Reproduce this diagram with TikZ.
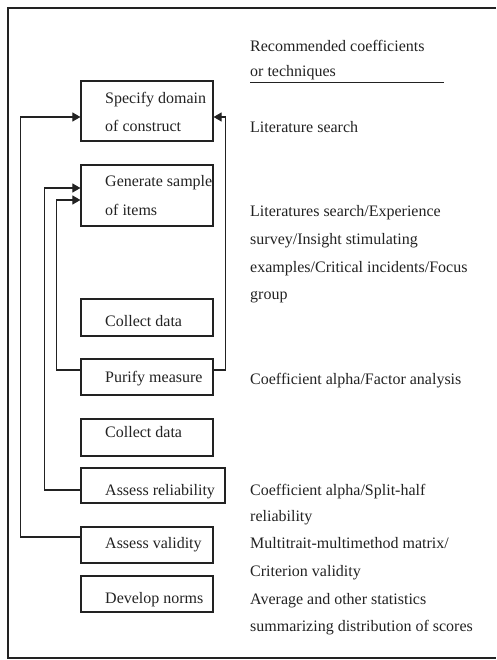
\documentclass[tikz,border=0pt]{standalone}
\usepackage{fontspec}
\setmainfont{Liberation Serif}
\usetikzlibrary{arrows.meta}
\definecolor{ink}{HTML}{222222}
\begin{document}
\begin{tikzpicture}[x=1pt,y=-1pt,
  box/.style={draw=ink,line width=1.2pt,minimum width=132pt,inner sep=0pt},
  txt/.style={anchor=base west,inner sep=0pt,text=ink,font=\fontsize{16}{20}\selectfont},
  link/.style={draw=ink,line width=1.1pt},
  arr/.style={link,-{Triangle[length=8pt,width=9pt]}}]
\useasboundingbox (0,0) rectangle (496,660);
\draw[ink,line width=1.2pt] (496,8) -- (8,8) -- (8,658) -- (496,658);
% boxes
\node[box,minimum height=60pt] (spec) at (147,111) {};
\node[box,minimum height=61pt] (gen) at (147,195.5) {};
\node[box,minimum height=37pt] (cd1) at (147,317.5) {};
\node[box,minimum height=36pt] (pur) at (147,377) {};
\node[box,minimum height=37pt] (cd2) at (147,437.5) {};
\node[box,minimum height=35pt,minimum width=144pt] (rel) at (153,485.5) {};
\node[box,minimum height=36pt] (val) at (147,545) {};
\node[box,minimum height=36pt] (nrm) at (147,594) {};
% box texts
\node[txt] (t1a) at (105,104) {Specify domain};
\node[txt] (t1b) at (105,132) {of construct};
\node[txt] (t2a) at (105,187) {Generate sample};
\node[txt] (t2b) at (105,215) {of items};
\node[txt] (t3) at (105,326) {Collect data};
\node[txt] (t4) at (105,382) {Purify measure};
\node[txt] (t5) at (105,437) {Collect data};
\node[txt] (t6) at (105,495) {Assess reliability};
\node[txt] (t7) at (105,548) {Assess validity};
\node[txt] (t8) at (105,603) {Develop norms};
% right column
\node[txt] (h1) at (250,52) {Recommended coefficients};
\node[txt] (h2) at (250,77) {or techniques};
\coordinate (u1) at (250,83);
\coordinate (u2) at (444,83);
\draw[ink,line width=1pt] (u1) -- (u2);
\node[txt] (r1) at (250,133) {Literature search};
\node[txt] (r2a) at (250,216) {Literatures search/Experience};
\node[txt] (r2b) at (250,244) {survey/Insight stimulating};
\node[txt] (r2c) at (250,272) {examples/Critical incidents/Focus};
\node[txt] (r2d) at (250,299) {group};
\node[txt] (r3) at (250,384) {Coefficient alpha/Factor analysis};
\node[txt] (r4a) at (250,495) {Coefficient alpha/Split-half};
\node[txt] (r4b) at (250,521) {reliability};
\node[txt] (r5a) at (250,548) {Multitrait-multimethod matrix/};
\node[txt] (r5b) at (250,576) {Criterion validity};
\node[txt] (r6a) at (250,604) {Average and other statistics};
\node[txt] (r6b) at (250,631) {summarizing distribution of scores};
% connectors
\draw[arr] ([yshift=8pt]val.west) -- ++(-60,0) |- ([yshift=-6pt]spec.west);
\draw[arr] ([yshift=-4.5pt]rel.west) -- ++(-36,0) |- ([yshift=7.5pt]gen.west);
\draw[arr] ([yshift=7pt]pur.west) -- ++(-24,0) |- ([yshift=-4.5pt]gen.west);
\draw[arr] ([yshift=7pt]pur.east) -- ++(12,0) |- ([yshift=-6pt]spec.east);
\end{tikzpicture}
\end{document}
